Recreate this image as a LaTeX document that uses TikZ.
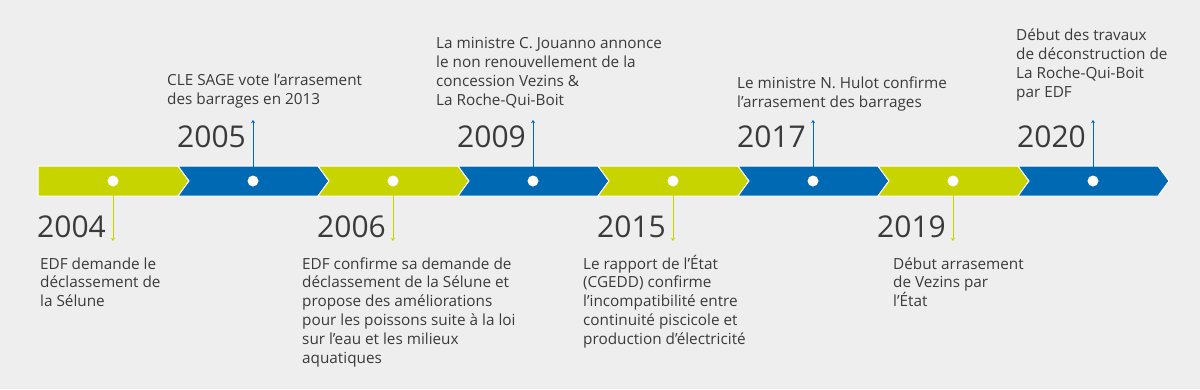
\documentclass[tikz,border=0pt]{standalone}
\usepackage{fontspec}
\setmainfont{Open Sans}
\usepackage{tikz}
\usetikzlibrary{arrows.meta,positioning}
\definecolor{tlgreen}{HTML}{C8D400}
\definecolor{tlblue}{HTML}{0069B4}
\definecolor{tlback}{HTML}{EEEEEE}
\definecolor{tltext}{HTML}{3A3A3A}
\tikzset{
  tlyear/.style={inner sep=0pt,anchor=base east,font=\fontsize{30}{30}\selectfont,text=tltext},
  tlnote/.style={inner sep=0pt,anchor=base west,align=left,
    font=\fontsize{15.3}{18.8}\selectfont,text=tltext},
  tldot/.style={circle,fill=white,inner sep=0pt,minimum size=11pt},
  tldown/.style={-{Stealth[length=3pt,width=4pt]},line width=.8pt,draw=tlgreen},
  tlup/.style={-{Stealth[length=3pt,width=4pt]},line width=.8pt,draw=tlblue},
  tlseg/.style={draw=white,line width=1pt,line join=miter}
}

\begin{document}
\begin{tikzpicture}[x=1pt,y=-1pt]
    \fill[tlback] (0,0) rectangle (1200,389);
    \useasboundingbox (0,0) rectangle (1200,389);
    % band
    \fill[tlseg,fill=tlgreen] (38,166) -- (178,166) -- (189,181) -- (178,196) -- (38,196) -- cycle;
    \foreach \i/\col in {1/tlblue,2/tlgreen,3/tlblue,4/tlgreen,5/tlblue,6/tlgreen,7/tlblue}{
      \pgfmathsetmacro{\xa}{38+140*\i}
      \filldraw[tlseg,fill=\col] (\xa,166) -- ++(140,0) -- ++(11,15) -- ++(-11,15)
        -- (\xa,196) -- ++(11,-15) -- cycle;
    }
    % 2004
    \node[tldot] (d04) at (113,181) {};
    \coordinate (t04) at (113,241);
    \draw[tldown] (d04) -- (t04);
    \node[tlyear] (y04) at (106,237) {2004};
    \node[tlnote] (n04) at (40,306.6) {EDF demande le\\déclassement de\\la Sélune};
    % 2005
    \node[tldot] (d05) at (253,181) {};
    \coordinate (t05) at (253,120);
    \draw[tlup] (d05) -- (t05);
    \node[tlyear] (y05) at (246,147) {2005};
    \node[tlnote] (n05) at (167,104) {CLE SAGE vote l’arrasement\\des barrages en 2013};
    % 2006
    \node[tldot] (d06) at (393,181) {};
    \coordinate (t06) at (393,241);
    \draw[tldown] (d06) -- (t06);
    \node[tlyear] (y06) at (386,237) {2006};
    \node[tlnote] (n06) at (302,363) {EDF confirme sa demande de\\déclassement de la Sélune et\\propose des améliorations\\pour les poissons suite à la loi\\sur l’eau et les milieux\\aquatiques};
    % 2009
    \node[tldot] (d09) at (533,181) {};
    \coordinate (t09) at (533,120);
    \draw[tlup] (d09) -- (t09);
    \node[tlyear] (y09) at (526,147) {2009};
    \node[tlnote] (n09) at (436,105) {La ministre C. Jouanno annonce\\le non renouvellement de la\\concession Vezins \&\\La Roche-Qui-Boit};
    % 2015
    \node[tldot] (d15) at (673,181) {};
    \coordinate (t15) at (673,241);
    \draw[tldown] (d15) -- (t15);
    \node[tlyear] (y15) at (666,237) {2015};
    \node[tlnote] (n15) at (583,344.2) {Le rapport de l’État\\(CGEDD) confirme\\l’incompatibilité entre\\continuité piscicole et\\production d’électricité};
    % 2017
    \node[tldot] (d17) at (813,181) {};
    \coordinate (t17) at (813,120);
    \draw[tlup] (d17) -- (t17);
    \node[tlyear] (y17) at (806,147) {2017};
    \node[tlnote] (n17) at (737,107) {Le ministre N. Hulot confirme\\l’arrasement des barrages};
    % 2019
    \node[tldot] (d19) at (953,181) {};
    \coordinate (t19) at (953,241);
    \draw[tldown] (d19) -- (t19);
    \node[tlyear] (y19) at (946,237) {2019};
    \node[tlnote] (n19) at (893,306.6) {Début arrasement\\de Vezins par\\l’État};
    % 2020
    \node[tldot] (d20) at (1093,181) {};
    \coordinate (t20) at (1093,120);
    \draw[tlup] (d20) -- (t20);
    \node[tlyear] (y20) at (1086,147) {2020};
    \node[tlnote] (n20) at (1016,97) {Début des travaux\\de déconstruction de\\La Roche-Qui-Boit\\par EDF};
\end{tikzpicture}
\end{document}
